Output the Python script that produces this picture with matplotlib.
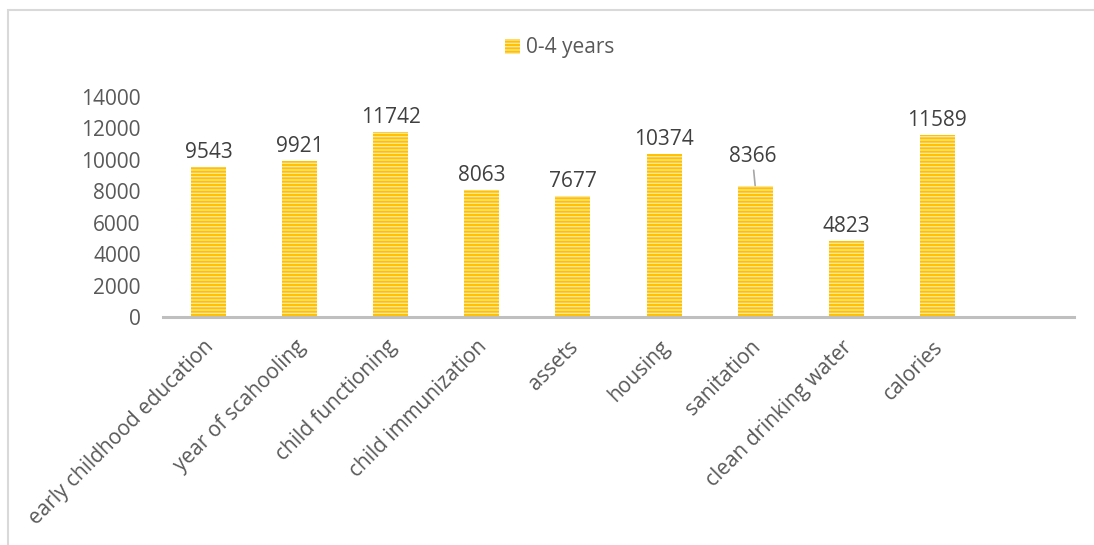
import matplotlib.pyplot as plt
import matplotlib.transforms as mtransforms
from matplotlib.patches import Rectangle

categories = ["early childhood education", "year of scahooling", "child functioning",
              "child immunization", "assets", "housing", "sanitation",
              "clean drinking water", "calories"]
values = [9543, 9921, 11742, 8063, 7677, 10374, 8366, 4823, 11589]
series_name = "0-4 years"
yticks = [0, 2000, 4000, 6000, 8000, 10000, 12000, 14000]

plt.rcParams['font.family'] = ['Open Sans', 'DejaVu Sans']
plt.rcParams['hatch.linewidth'] = 1.4

fig = plt.figure(figsize=(10.94, 5.45), dpi=100)
ax = fig.add_axes([163 / 1094, 1 - 317 / 545, (1074 - 163) / 1094, 220 / 545])

x = list(range(len(categories)))
bars = ax.bar(x, values, width=0.385, color='#FFE699', edgecolor='#FFC000',
              linewidth=0, hatch='-----', label=series_name)

ax.set_xlim(-0.5, len(categories) + 0.5)
ax.set_ylim(0, 14000)
ax.set_yticks(yticks)
ax.set_yticklabels([str(t) for t in yticks], fontsize=15, color='#595959')
ax.set_xticks(x)
ax.set_xticklabels(categories, rotation=45, ha='right', va='top',
                   rotation_mode='anchor', fontsize=15, color='#595959')
ax.tick_params(axis='both', length=0)
ax.tick_params(axis='y', pad=16)
ax.tick_params(axis='x', pad=14)

# nudge the rotated labels a little to the left
shift = mtransforms.ScaledTranslation(-5 / 100, 0, fig.dpi_scale_trans)
for lbl in ax.get_xticklabels():
    lbl.set_transform(lbl.get_transform() + shift)

for s in ['top', 'right', 'left']:
    ax.spines[s].set_visible(False)
ax.spines['bottom'].set_color('#BFBFBF')
ax.spines['bottom'].set_linewidth(2.2)

# data labels
for i, v in enumerate(values):
    if categories[i] == "sanitation":
        ax.annotate(str(v), xy=(i, v), xytext=(-2, 13), textcoords='offset points',
                    ha='center', va='bottom', fontsize=15, color='#404040',
                    arrowprops=dict(arrowstyle='-', color='#A6A6A6', lw=1.2,
                                    shrinkA=0, shrinkB=0))
    else:
        ax.annotate(str(v), xy=(i, v), xytext=(0, 3), textcoords='offset points',
                    ha='center', va='bottom', fontsize=15, color='#404040')

fig.legend(handles=[bars], labels=[series_name], loc='center',
           bbox_to_anchor=(560 / 1094, 1 - 48 / 545), frameon=False,
           fontsize=15, labelcolor='#595959', handlelength=0.7, handleheight=0.7,
           handletextpad=0.3)

# chart frame
fig.patches.append(Rectangle((8 / 1094, -0.1), 1.2, 0.1 + 1 - 10 / 545,
                             transform=fig.transFigure, fill=False,
                             edgecolor='#D9D9D9', linewidth=1.5))

fig.savefig('out.png', dpi=100)
